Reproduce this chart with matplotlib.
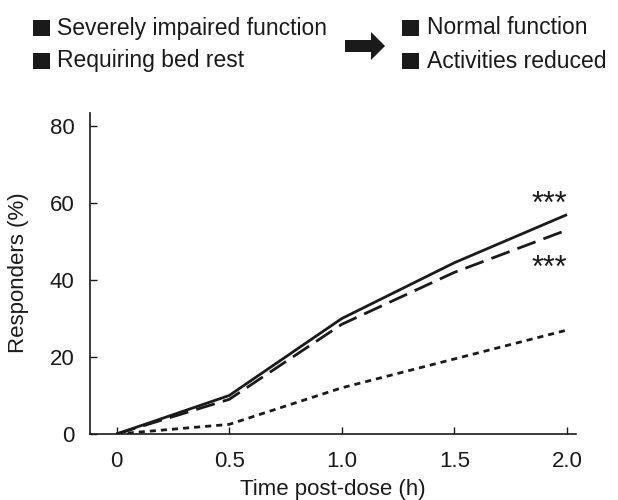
import matplotlib
matplotlib.use("Agg")
import matplotlib.pyplot as plt
from matplotlib.patches import Rectangle, FancyArrow

plt.rcParams['font.family'] = ['Liberation Sans', 'DejaVu Sans']

time_h = [0, 0.5, 1.0, 1.5, 2.0]
normal_function = [0, 10, 30, 44.5, 57]
activities_reduced = [0, 9, 28.5, 42, 53]
placebo = [0, 2.5, 12, 19.5, 27]
x_ticks = [0, 0.5, 1.0, 1.5, 2.0]
x_tick_labels = ['0', '0.5', '1.0', '1.5', '2.0']
y_ticks = [0, 20, 40, 60, 80]
legend_left = ['Severely impaired function', 'Requiring bed rest']
legend_right = ['Normal function', 'Activities reduced']

W, H = 618, 500
FS = 16.5
FS_AX = 16
INK = '#1a1a1a'
fig = plt.figure(figsize=(W / 100, H / 100), dpi=100)
ax = fig.add_axes([90 / W, 1 - 434 / H, (576 - 90) / W, (434 - 113) / H])

lw = 2.0
ax.plot(time_h, normal_function, color=INK, lw=lw, solid_capstyle='butt')
ax.plot(time_h, activities_reduced, color=INK, lw=lw, dashes=(7, 3), dash_capstyle='butt')
ax.plot(time_h, placebo, color=INK, lw=lw, dashes=(2.2, 1.8), dash_capstyle='butt')

ax.text(2.0, 59.5, '***', ha='right', va='center', fontsize=22, color=INK)
ax.text(2.0, 43.0, '***', ha='right', va='center', fontsize=22, color=INK)

ax.set_xlim(-0.118, 2.04)
ax.set_ylim(0, 83.4)
ax.set_xticks(x_ticks)
ax.set_xticklabels(x_tick_labels)
ax.set_yticks(y_ticks)
ax.tick_params(direction='in', length=5, width=1, labelsize=FS_AX, colors=INK)
ax.tick_params(axis='x', pad=12)
ax.tick_params(axis='y', pad=11)
for s in ['top', 'right']:
    ax.spines[s].set_visible(False)
for s in ['left', 'bottom']:
    ax.spines[s].set_linewidth(1.2)
    ax.spines[s].set_color(INK)


def fx(px):
    return px / W


def fy(py):
    return 1 - py / H


fig.text(fx(333), fy(489), 'Time post-dose (h)', ha='center', va='center', fontsize=FS_AX, color=INK)
fig.text(fx(19), fy(273), 'Responders (%)', ha='center', va='center', rotation=90,
         fontsize=FS_AX, color=INK)

# header legend
rows_y = [28, 61]
for i, lbl in enumerate(legend_left):
    yc = rows_y[i]
    fig.patches.append(Rectangle((fx(33), fy(yc + 8)), 17 / W, 16 / H, transform=fig.transFigure,
                                 facecolor=INK, edgecolor='none'))
    fig.text(fx(57), fy(yc), lbl, ha='left', va='center', fontsize=FS, color=INK)
for i, lbl in enumerate(legend_right):
    yc = rows_y[i]
    fig.patches.append(Rectangle((fx(402), fy(yc + 8)), 17 / W, 16 / H, transform=fig.transFigure,
                                 facecolor=INK, edgecolor='none'))
    fig.text(fx(427), fy(yc), lbl, ha='left', va='center', fontsize=FS, color=INK)

arrow = FancyArrow(fx(345), fy(46), (385 - 345) / W, 0, width=12 / H, head_width=28 / H,
                   head_length=14 / W, length_includes_head=True, transform=fig.transFigure,
                   facecolor=INK, edgecolor='none')
fig.patches.append(arrow)

fig.savefig('out.png', dpi=100)
